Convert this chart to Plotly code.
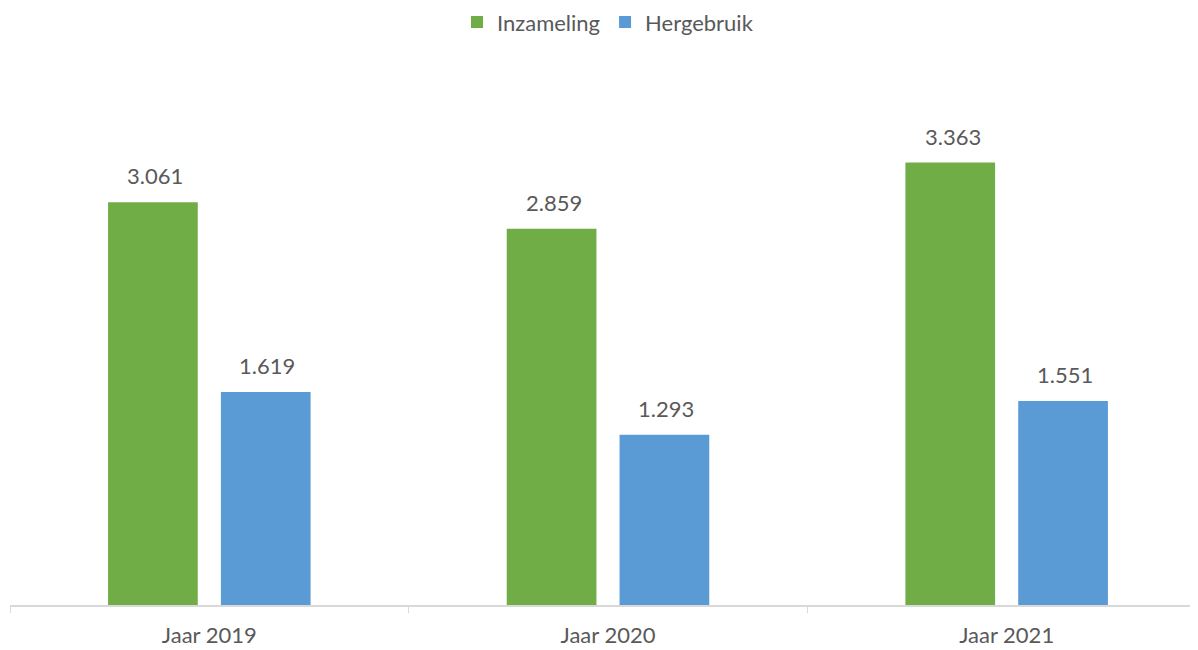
import plotly.graph_objects as go

categories = ["Jaar 2019", "Jaar 2020", "Jaar 2021"]
inzameling = [3061, 2859, 3363]
hergebruik = [1619, 1293, 1551]

font_family = "Lato, 'Open Sans', sans-serif"
grey = "#595959"

fig = go.Figure()
fig.add_trace(go.Bar(
    x=categories, y=inzameling, name="Inzameling",
    marker=dict(color="#70AD47", line=dict(width=0)),
))
fig.add_trace(go.Bar(
    x=categories, y=hergebruik, name="Hergebruik",
    marker=dict(color="#5B9BD5", line=dict(width=0)),
))

# value labels above bars
for vals, shift in ((inzameling, -54), (hergebruik, 58)):
    for c, v in zip(categories, vals):
        fig.add_annotation(
            x=c, y=v, text=f"{v:,}".replace(",", "."),
            xshift=shift, yshift=11, yanchor="bottom", showarrow=False,
            font=dict(size=22, color=grey, family=font_family),
        )

fig.update_layout(
    width=1198, height=650,
    margin=dict(l=2, r=0, t=72, b=53, autoexpand=False),
    paper_bgcolor="white", plot_bgcolor="white",
    separators=",.",
    barmode="group", bargap=0.434, bargroupgap=0.205,
    font=dict(family=font_family, size=22, color=grey),
    showlegend=True,
    legend=dict(orientation="h", x=0.5, xanchor="center",
                yref="container", y=0.978, yanchor="middle",
                font=dict(size=22, color=grey, family=font_family),
                itemsizing="constant"),
    xaxis=dict(
        type="category", range=[-0.5, 2.5],
        showline=True, linecolor="#D9D9D9", linewidth=1.5,
        ticks="outside", tickson="boundaries", ticklen=6, tickcolor="#D9D9D9",
        tickfont=dict(size=22, color=grey, family=font_family),
        ticklabelstandoff=10, automargin=False,
        showgrid=False,
    ),
    yaxis=dict(range=[0, 3990], visible=False, showgrid=False, zeroline=False),
)

fig.write_html("out.html")
